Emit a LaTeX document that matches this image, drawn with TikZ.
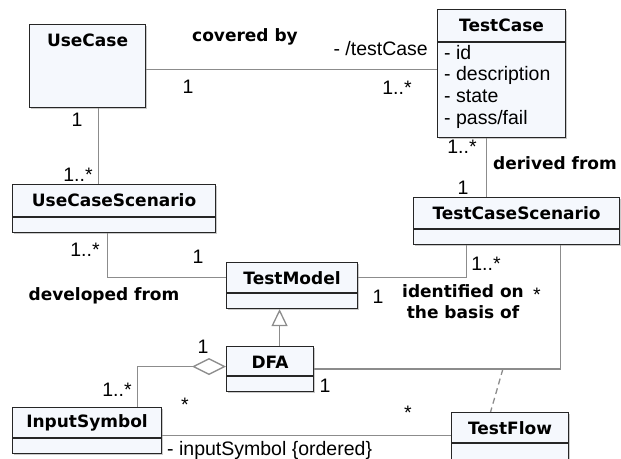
\documentclass[tikz,border=0pt]{standalone}
\usepackage{fontspec}
\setmainfont{Liberation Sans}
\newfontfamily\titlefont{DejaVu Sans}
\usetikzlibrary{positioning,calc,arrows.meta,shadows}
\definecolor{boxfill}{RGB}{245,248,253}
\definecolor{linegray}{RGB}{140,140,140}
\tikzset{
  umlbox/.style={draw=black!85, line width=1.1pt, fill=boxfill, anchor=north west, inner sep=0pt,
    drop shadow={shadow xshift=1.5pt, shadow yshift=-1.5pt, fill=black!35, opacity=0.6}},
  boxtitle/.style={font=\titlefont\bfseries\fontsize{17}{20}\selectfont, inner sep=0pt},
  heading/.style={font=\titlefont\bfseries\fontsize{17}{21}\selectfont, inner sep=0pt, align=center},
  mult/.style={inner sep=0pt},
  assoc/.style={draw=linegray, line width=1.3pt},
}
\begin{document}
\begin{tikzpicture}[x=1pt,y=-1pt,font=\fontsize{19.5}{22}\selectfont]
  \useasboundingbox (0,0) rectangle (621,458);
  % classes: name/left/top/width/height/title/divider
  \foreach \n/\x/\y/\w/\h/\t/\d in {usecase/29/24/116/83/UseCase/0,
      testcase/437/9/128/128/TestCase/33, ucscen/12/184/203/48/UseCaseScenario/33,
      tcscen/413/197/206/47/TestCaseScenario/32, tmodel/226/262/131/46/TestModel/31,
      dfa/226/346/87/45/DFA/30, insym/12/407/149/46/InputSymbol/31,
      tflow/451/412/117/52/TestFlow/31} {
    \node[umlbox, minimum width=\w, minimum height=\h] (\n) at (\x,\y) {};
    \node[boxtitle] (\n-title) at ($(\n.north)+(0,16)$) {\t};
    \ifnum\d>0
      \draw[line width=1.1pt, draw=black!85] ($(\n.north west)+(0,\d)$) -- ($(\n.north east)+(0,\d)$);
    \fi
  }
  \foreach \a [count=\i from 0] in {id,description,state,pass/fail}
    \node[anchor=base west, inner sep=0pt] (attr\i) at ($(testcase.north west)+(7,50+21.7*\i)$) {- \a};

  % associations
  \draw[assoc] ([yshift=-3.5pt]usecase.east) -- ([yshift=-3.5pt]usecase.east -| testcase.west);
  \draw[assoc] ([xshift=11pt]usecase.south) -- ([xshift=11pt]usecase.south |- ucscen.north);
  \draw[assoc] ([xshift=-6.5pt]ucscen.south) |- ([yshift=8pt]tmodel.west);
  \draw[assoc] ([xshift=-15pt]testcase.south) -- ([xshift=-15pt]testcase.south |- tcscen.north);
  \draw[assoc] ([yshift=8pt]tmodel.east) -| ([xshift=-50pt]tcscen.south);
  \draw[assoc] ([xshift=44pt]tcscen.south) |- coordinate[pos=0.617] (flowlink) (dfa.east);
  \draw[assoc, dash pattern=on 6pt off 4pt] (flowlink) -- ([xshift=-19.5pt]tflow.north);
  \draw[assoc, -{Triangle[open, length=17pt, width=16pt]}] ([xshift=9.5pt]dfa.north)
     -- ([xshift=9.5pt]dfa.north |- tmodel.south);
  \draw[assoc, {Diamond[open, length=34pt, width=17pt]}-] ([yshift=2.5pt]dfa.west)
     -| ([xshift=50.5pt]insym.north);
  \draw[assoc] ([yshift=-5pt]insym.east) -- ([yshift=-5pt]insym.east -| tflow.west);

  % multiplicities
  \foreach \x/\y/\t [count=\i] in {188/87/1, 397/88/1..*, 77/120/1, 78/175/1..*,
      462/147/1..*, 463/188/1, 85/250/1..*, 198/257/1, 378/297/1, 486/264/1..*,
      537/295/*, 325/386/1, 203/347/1, 117/390/1..*, 185/405/*, 408/413/*}
    \node[mult] (m\i) at (\x,\y) {\t};

  % role names and association names
  \node[mult, anchor=east] (role1) at (428,49) {- /testCase};
  \node[mult, anchor=west] (role2) at (167,450) {- inputSymbol \{ordered\}};
  \node[heading] (covered) at (245,37) {covered by};
  \node[heading] (derived) at (555,163) {derived from};
  \node[heading] (developed) at (104,296) {developed from};
  \node[heading] (identified) at (463,302) {identified on\\the basis of};
\end{tikzpicture}
\end{document}
